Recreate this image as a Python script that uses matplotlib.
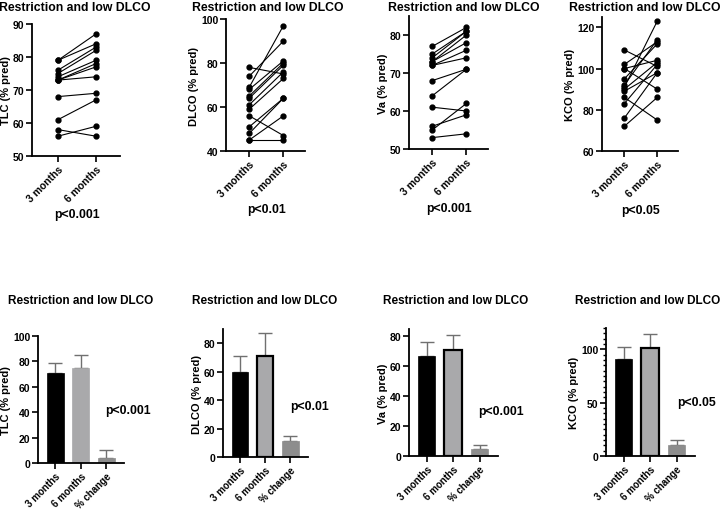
import matplotlib.pyplot as plt
from matplotlib.ticker import MultipleLocator

plt.rcParams['font.family'] = ['Liberation Sans', 'DejaVu Sans']
plt.rcParams['font.weight'] = 'bold'

title = "Restriction and low DLCO"
pair_labels = ["3 months", "6 months"]
bar_labels = ["3 months", "6 months", "% change"]

# paired values per patient (3 months, 6 months)
tlc_3m = [79, 79, 76, 75, 74, 73, 73, 73, 68, 61, 58, 56]
tlc_6m = [87, 84, 83, 82, 79, 78, 77, 74, 69, 67, 56, 59]
dlco_3m = [78, 74, 69, 68, 65, 64, 61, 59, 56, 51, 48, 45, 45]
dlco_6m = [75, 90, 97, 81, 80, 79, 76, 73, 47, 64, 64, 56, 45]
va_3m = [77, 75, 74, 73, 73, 72, 72, 68, 64, 61, 56, 55, 53]
va_6m = [82, 81, 81, 80, 78, 76, 74, 71, 71, 60, 59, 62, 54]
kco_3m = [109, 102, 100, 100, 95, 92, 91, 90, 89, 86, 83, 76, 72]
kco_6m = [101, 113, 90, 104, 112, 114, 123, 103, 98, 75, 102, 98, 86]

# bar means and SD (3 months, 6 months, % change)
tlc_mean = [71, 75, 4]
tlc_sd = [8, 10, 6]
dlco_mean = [60, 71, 11]
dlco_sd = [11, 16, 4]
va_mean = [67, 71, 4.5]
va_sd = [9, 10, 3]
kco_mean = [91, 101, 10]
kco_sd = [11, 13, 5]

W, H = 723, 510
fig = plt.figure(figsize=(W / 100, H / 100), dpi=100)


def add_ax(x0, y0, x1, y1):
    # pixel box (top-left origin) -> figure fraction
    return fig.add_axes([x0 / W, 1 - y1 / H, (x1 - x0) / W, (y1 - y0) / H])


def style(ax, ylab, xsize):
    for s in ['top', 'right']:
        ax.spines[s].set_visible(False)
    for s in ['left', 'bottom']:
        ax.spines[s].set_linewidth(1.3)
    ax.tick_params(axis='y', width=1.2, length=4, labelsize=7.5, pad=1.5)
    ax.tick_params(axis='x', width=1.2, length=4, labelsize=xsize, pad=1.5)
    for lab in ax.get_yticklabels():
        lab.set_fontweight('bold')
    ax.set_ylabel(ylab, fontsize=8, fontweight='bold', labelpad=1.5)


def put_title(cx, cy, size):
    fig.text(cx / W, 1 - cy / H, title, ha='center', va='center',
             fontsize=size, fontweight='bold')


top = [
    (tlc_3m, tlc_6m, "TLC (% pred)", (50, 90), 10, (32, 25, 120, 157), "p<0.001", 75),
    (dlco_3m, dlco_6m, "DLCO (% pred)", (40, 100), 20, (226, 20, 305, 152), "p<0.01", 268),
    (va_3m, va_6m, "Va (% pred)", (50, 85), 10, (409, 17, 488, 150), "p<0.001", 464),
    (kco_3m, kco_6m, "KCO (% pred)", (60, 125), 20, (602, 18, 678, 152), "p<0.05", 645),
]

for a, b, ylab, ylim, step, box, ptxt, tx in top:
    ax = add_ax(*box)
    for v0, v1 in zip(a, b):
        ax.plot([0, 1], [v0, v1], color='black', lw=0.8, marker='o', ms=3.5)
    ax.set_xlim(-0.68, 1.63)
    ax.set_ylim(*ylim)
    ax.yaxis.set_major_locator(MultipleLocator(step))
    ax.set_xticks([0, 1])
    ax.set_xticklabels(pair_labels, rotation=45, ha='right', rotation_mode='anchor',
                       fontweight='bold')
    style(ax, ylab, 7.5)
    put_title(tx, 8, 8.8)
    ax.text(0.5, -0.44, ptxt, transform=ax.get_xaxis_transform(), ha='center',
            va='center', fontsize=8.8, fontweight='bold')

bottom = [
    (tlc_mean, tlc_sd, "TLC (% pred)", (0, 100), 20, (38, 337, 124, 464), "p<0.001", False, 81, 2.86, 42),
    (dlco_mean, dlco_sd, "DLCO (% pred)", (0, 90), 20, (223, 330, 308, 458), "p<0.01", True, 265, 2.75, 36),
    (va_mean, va_sd, "Va (% pred)", (0, 85), 20, (409, 330, 498, 457), "p<0.001", True, 456, 2.8, 30),
    (kco_mean, kco_sd, "KCO (% pred)", (0, 120), 50, (606, 329, 695, 457), "p<0.05", True, 648, 2.75, 51),
]

colors = ['black', '#a9a9ab', '#8d8d8d']

for means, sds, ylab, ylim, step, box, ptxt, edge6, tx, px, py in bottom:
    ax = add_ax(*box)
    for i, (m, s) in enumerate(zip(means, sds)):
        thick = i == 1 and edge6
        ax.bar(i, m, width=0.66, color=colors[i],
               edgecolor='black' if thick else colors[i],
               linewidth=1.6 if thick else 0.5, zorder=2)
        ax.errorbar(i, m, yerr=[[0], [s]], color='#707070', lw=1.0, capsize=5,
                    capthick=1.0, zorder=1)
    ax.set_xlim(-0.67, 2.7)
    ax.set_ylim(*ylim)
    ax.yaxis.set_major_locator(MultipleLocator(step))
    if step == 50:
        ax.yaxis.set_minor_locator(MultipleLocator(5))
        ax.tick_params(which='minor', length=2.5, width=1)
    ax.set_xticks([0, 1, 2])
    ax.set_xticklabels(bar_labels, rotation=45, ha='right', rotation_mode='anchor',
                       fontweight='bold')
    style(ax, ylab, 7)
    put_title(tx, 301, 8.5)
    ax.text(px, py, ptxt, ha='center', va='center', fontsize=8.8,
            fontweight='bold', clip_on=False)

fig.savefig('out.png', dpi=100, facecolor='white')
